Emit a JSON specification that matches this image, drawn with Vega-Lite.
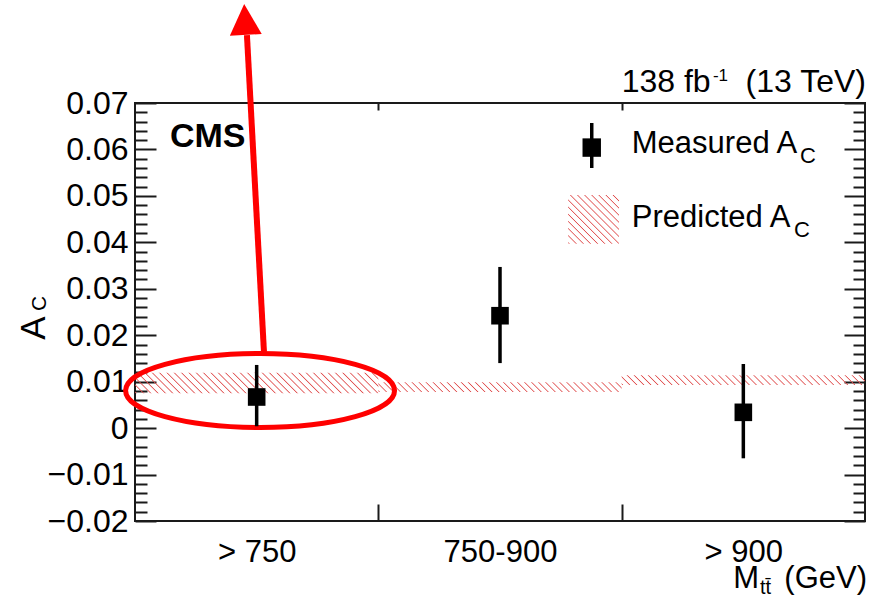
{
  "$schema": "https://vega.github.io/schema/vega-lite/v6.json",
  "width": 730,
  "height": 418,
  "autosize": {"type": "none"},
  "padding": {"left": 135, "top": 103, "right": 18, "bottom": 78},
  "background": "white",
  "config": {
    "font": "Liberation Sans",
    "view": {"stroke": "#1a1a1a", "strokeWidth": 2},
    "axis": {
      "domain": false,
      "grid": false,
      "tickColor": "#1a1a1a",
      "tickWidth": 2,
      "labelColor": "#000000",
      "labelFont": "Liberation Sans",
      "labelFontSize": 31,
      "labelFlush": false,
      "labelOverlap": false
    }
  },
  "datasets": {
    "bins": [
      {"bin": "> 750", "x0": 0, "x1": 1, "xc": 0.5, "meas": 0.0067, "lo": 0.0004, "hi": 0.0136, "pred_lo": 0.0075, "pred_hi": 0.0119},
      {"bin": "750-900", "x0": 1, "x1": 2, "xc": 1.5, "meas": 0.0242, "lo": 0.0140, "hi": 0.0347, "pred_lo": 0.0078, "pred_hi": 0.0099},
      {"bin": "> 900", "x0": 2, "x1": 3, "xc": 2.5, "meas": 0.0034, "lo": -0.0065, "hi": 0.0138, "pred_lo": 0.0093, "pred_hi": 0.0114}
    ],
    "legendBox": [
      {"x0": 1.780, "x1": 1.989, "lo": 0.0397, "hi": 0.0502}
    ],
    "legendMark": [
      {"x": 1.877, "y": 0.0604, "lo": 0.0560, "hi": 0.0657}
    ],
    "notes": [
      {"role": "ellipse", "x": 0.514, "y": 0.0081},
      {"role": "arrow", "x": 0.530, "y": 0.0164, "x2": 0.460, "y2": 0.0846},
      {"role": "head", "x": 0.452, "y": 0.088}
    ],
    "texts": [
      {"role": "main", "label": "Measured A", "x": 2.0416, "y": 0.0592},
      {"role": "main", "label": "Predicted A", "x": 2.0416, "y": 0.0433},
      {"role": "top", "label": "138 fb", "x": 2.0, "y": 0.0724},
      {"role": "topR", "label": "(13 TeV)", "x": 3.004, "y": 0.0724},
      {"role": "mainR", "label": "M", "x": 2.5645, "y": -0.0345},
      {"role": "mainR", "label": "(GeV)", "x": 3.0082, "y": -0.0345},
      {"role": "sub", "label": "C", "x": 2.733, "y": 0.0571},
      {"role": "sub", "label": "C", "x": 2.708, "y": 0.0411},
      {"role": "subX", "label": "tt̄", "x": 2.5685, "y": -0.0358},
      {"role": "sup", "label": "-1", "x": 2.375, "y": 0.0747},
      {"role": "cms", "label": "CMS", "x": 0.1438, "y": 0.0605},
      {"role": "ytA", "label": "A", "x": -0.370, "y": 0.0190},
      {"role": "ytC", "label": "C", "x": -0.3658, "y": 0.0252}
    ]
  },
  "layer": [
    {
      "data": {"name": "bins"},
      "transform": [{"filter": "datum.x0 == 0"}],
      "mark": {
        "type": "rect",
        "stroke": null,
        "fill": {
          "gradient": "linear", "x1": -0.084, "y1": 0, "x2": 0.9924, "y2": -0.0904,
          "stops": [
            {"offset": 0, "color": "#e0505000"}, {"offset": 0.0045, "color": "#e05050"}, {"offset": 0.009, "color": "#e0505000"},
            {"offset": 0.0278, "color": "#e0505000"}, {"offset": 0.0323, "color": "#e05050"}, {"offset": 0.0368, "color": "#e0505000"},
            {"offset": 0.0556, "color": "#e0505000"}, {"offset": 0.0601, "color": "#e05050"}, {"offset": 0.0646, "color": "#e0505000"},
            {"offset": 0.0833, "color": "#e0505000"}, {"offset": 0.0878, "color": "#e05050"}, {"offset": 0.0923, "color": "#e0505000"},
            {"offset": 0.1111, "color": "#e0505000"}, {"offset": 0.1156, "color": "#e05050"}, {"offset": 0.1201, "color": "#e0505000"},
            {"offset": 0.1389, "color": "#e0505000"}, {"offset": 0.1434, "color": "#e05050"}, {"offset": 0.1479, "color": "#e0505000"},
            {"offset": 0.1667, "color": "#e0505000"}, {"offset": 0.1712, "color": "#e05050"}, {"offset": 0.1757, "color": "#e0505000"},
            {"offset": 0.1944, "color": "#e0505000"}, {"offset": 0.1989, "color": "#e05050"}, {"offset": 0.2034, "color": "#e0505000"},
            {"offset": 0.2222, "color": "#e0505000"}, {"offset": 0.2267, "color": "#e05050"}, {"offset": 0.2312, "color": "#e0505000"},
            {"offset": 0.25, "color": "#e0505000"}, {"offset": 0.2545, "color": "#e05050"}, {"offset": 0.259, "color": "#e0505000"},
            {"offset": 0.2778, "color": "#e0505000"}, {"offset": 0.2823, "color": "#e05050"}, {"offset": 0.2868, "color": "#e0505000"},
            {"offset": 0.3056, "color": "#e0505000"}, {"offset": 0.3101, "color": "#e05050"}, {"offset": 0.3146, "color": "#e0505000"},
            {"offset": 0.3333, "color": "#e0505000"}, {"offset": 0.3378, "color": "#e05050"}, {"offset": 0.3423, "color": "#e0505000"},
            {"offset": 0.3611, "color": "#e0505000"}, {"offset": 0.3656, "color": "#e05050"}, {"offset": 0.3701, "color": "#e0505000"},
            {"offset": 0.3889, "color": "#e0505000"}, {"offset": 0.3934, "color": "#e05050"}, {"offset": 0.3979, "color": "#e0505000"},
            {"offset": 0.4167, "color": "#e0505000"}, {"offset": 0.4212, "color": "#e05050"}, {"offset": 0.4257, "color": "#e0505000"},
            {"offset": 0.4444, "color": "#e0505000"}, {"offset": 0.4489, "color": "#e05050"}, {"offset": 0.4534, "color": "#e0505000"},
            {"offset": 0.4722, "color": "#e0505000"}, {"offset": 0.4767, "color": "#e05050"}, {"offset": 0.4812, "color": "#e0505000"},
            {"offset": 0.5, "color": "#e0505000"}, {"offset": 0.5045, "color": "#e05050"}, {"offset": 0.509, "color": "#e0505000"},
            {"offset": 0.5278, "color": "#e0505000"}, {"offset": 0.5323, "color": "#e05050"}, {"offset": 0.5368, "color": "#e0505000"},
            {"offset": 0.5556, "color": "#e0505000"}, {"offset": 0.5601, "color": "#e05050"}, {"offset": 0.5646, "color": "#e0505000"},
            {"offset": 0.5833, "color": "#e0505000"}, {"offset": 0.5878, "color": "#e05050"}, {"offset": 0.5923, "color": "#e0505000"},
            {"offset": 0.6111, "color": "#e0505000"}, {"offset": 0.6156, "color": "#e05050"}, {"offset": 0.6201, "color": "#e0505000"},
            {"offset": 0.6389, "color": "#e0505000"}, {"offset": 0.6434, "color": "#e05050"}, {"offset": 0.6479, "color": "#e0505000"},
            {"offset": 0.6667, "color": "#e0505000"}, {"offset": 0.6712, "color": "#e05050"}, {"offset": 0.6757, "color": "#e0505000"},
            {"offset": 0.6944, "color": "#e0505000"}, {"offset": 0.6989, "color": "#e05050"}, {"offset": 0.7034, "color": "#e0505000"},
            {"offset": 0.7222, "color": "#e0505000"}, {"offset": 0.7267, "color": "#e05050"}, {"offset": 0.7312, "color": "#e0505000"},
            {"offset": 0.75, "color": "#e0505000"}, {"offset": 0.7545, "color": "#e05050"}, {"offset": 0.759, "color": "#e0505000"},
            {"offset": 0.7778, "color": "#e0505000"}, {"offset": 0.7823, "color": "#e05050"}, {"offset": 0.7868, "color": "#e0505000"},
            {"offset": 0.8056, "color": "#e0505000"}, {"offset": 0.8101, "color": "#e05050"}, {"offset": 0.8146, "color": "#e0505000"},
            {"offset": 0.8333, "color": "#e0505000"}, {"offset": 0.8378, "color": "#e05050"}, {"offset": 0.8423, "color": "#e0505000"},
            {"offset": 0.8611, "color": "#e0505000"}, {"offset": 0.8656, "color": "#e05050"}, {"offset": 0.8701, "color": "#e0505000"},
            {"offset": 0.8889, "color": "#e0505000"}, {"offset": 0.8934, "color": "#e05050"}, {"offset": 0.8979, "color": "#e0505000"},
            {"offset": 0.9167, "color": "#e0505000"}, {"offset": 0.9212, "color": "#e05050"}, {"offset": 0.9257, "color": "#e0505000"},
            {"offset": 0.9444, "color": "#e0505000"}, {"offset": 0.9489, "color": "#e05050"}, {"offset": 0.9534, "color": "#e0505000"},
            {"offset": 0.9722, "color": "#e0505000"}, {"offset": 0.9767, "color": "#e05050"}, {"offset": 0.9812, "color": "#e0505000"}
          ]
        }
      },
      "encoding": {
        "x": {
          "field": "x0", "type": "quantitative",
          "scale": {"domain": [0, 3], "nice": false, "zero": false},
          "axis": {
            "orient": "bottom", "title": null, "values": [0.5, 1.5, 2.5],
            "labelExpr": "datum.value < 1 ? '> 750' : datum.value < 2 ? '750-900' : '> 900'",
            "ticks": false, "labelPadding": 40, "labelBaseline": "alphabetic", "labelAlign": "center"
          }
        },
        "x2": {"field": "x1"},
        "y": {
          "field": "pred_lo", "type": "quantitative",
          "scale": {"domain": [-0.02, 0.07], "nice": false, "zero": false},
          "axis": {
            "orient": "left", "title": null,
            "values": [-0.02, -0.01, 0, 0.01, 0.02, 0.03, 0.04, 0.05, 0.06, 0.07],
            "labelExpr": "datum.value == 0 ? '0' : format(datum.value, '.2f')",
            "ticks": false, "labelPadding": 7, "labelAlign": "right", "labelBaseline": "middle", "labelFontSize": 32
          }
        },
        "y2": {"field": "pred_hi"}
      }
    },
    {
      "data": {"name": "bins"},
      "transform": [{"filter": "datum.x0 >= 1"}],
      "mark": {
        "type": "rect",
        "stroke": null,
        "fill": {
          "gradient": "linear", "x1": -0.0401, "y1": 0, "x2": 0.9983, "y2": -0.0416,
          "stops": [
            {"offset": 0, "color": "#e0505000"}, {"offset": 0.0045, "color": "#e05050"}, {"offset": 0.009, "color": "#e0505000"},
            {"offset": 0.0278, "color": "#e0505000"}, {"offset": 0.0323, "color": "#e05050"}, {"offset": 0.0368, "color": "#e0505000"},
            {"offset": 0.0556, "color": "#e0505000"}, {"offset": 0.0601, "color": "#e05050"}, {"offset": 0.0646, "color": "#e0505000"},
            {"offset": 0.0833, "color": "#e0505000"}, {"offset": 0.0878, "color": "#e05050"}, {"offset": 0.0923, "color": "#e0505000"},
            {"offset": 0.1111, "color": "#e0505000"}, {"offset": 0.1156, "color": "#e05050"}, {"offset": 0.1201, "color": "#e0505000"},
            {"offset": 0.1389, "color": "#e0505000"}, {"offset": 0.1434, "color": "#e05050"}, {"offset": 0.1479, "color": "#e0505000"},
            {"offset": 0.1667, "color": "#e0505000"}, {"offset": 0.1712, "color": "#e05050"}, {"offset": 0.1757, "color": "#e0505000"},
            {"offset": 0.1944, "color": "#e0505000"}, {"offset": 0.1989, "color": "#e05050"}, {"offset": 0.2034, "color": "#e0505000"},
            {"offset": 0.2222, "color": "#e0505000"}, {"offset": 0.2267, "color": "#e05050"}, {"offset": 0.2312, "color": "#e0505000"},
            {"offset": 0.25, "color": "#e0505000"}, {"offset": 0.2545, "color": "#e05050"}, {"offset": 0.259, "color": "#e0505000"},
            {"offset": 0.2778, "color": "#e0505000"}, {"offset": 0.2823, "color": "#e05050"}, {"offset": 0.2868, "color": "#e0505000"},
            {"offset": 0.3056, "color": "#e0505000"}, {"offset": 0.3101, "color": "#e05050"}, {"offset": 0.3146, "color": "#e0505000"},
            {"offset": 0.3333, "color": "#e0505000"}, {"offset": 0.3378, "color": "#e05050"}, {"offset": 0.3423, "color": "#e0505000"},
            {"offset": 0.3611, "color": "#e0505000"}, {"offset": 0.3656, "color": "#e05050"}, {"offset": 0.3701, "color": "#e0505000"},
            {"offset": 0.3889, "color": "#e0505000"}, {"offset": 0.3934, "color": "#e05050"}, {"offset": 0.3979, "color": "#e0505000"},
            {"offset": 0.4167, "color": "#e0505000"}, {"offset": 0.4212, "color": "#e05050"}, {"offset": 0.4257, "color": "#e0505000"},
            {"offset": 0.4444, "color": "#e0505000"}, {"offset": 0.4489, "color": "#e05050"}, {"offset": 0.4534, "color": "#e0505000"},
            {"offset": 0.4722, "color": "#e0505000"}, {"offset": 0.4767, "color": "#e05050"}, {"offset": 0.4812, "color": "#e0505000"},
            {"offset": 0.5, "color": "#e0505000"}, {"offset": 0.5045, "color": "#e05050"}, {"offset": 0.509, "color": "#e0505000"},
            {"offset": 0.5278, "color": "#e0505000"}, {"offset": 0.5323, "color": "#e05050"}, {"offset": 0.5368, "color": "#e0505000"},
            {"offset": 0.5556, "color": "#e0505000"}, {"offset": 0.5601, "color": "#e05050"}, {"offset": 0.5646, "color": "#e0505000"},
            {"offset": 0.5833, "color": "#e0505000"}, {"offset": 0.5878, "color": "#e05050"}, {"offset": 0.5923, "color": "#e0505000"},
            {"offset": 0.6111, "color": "#e0505000"}, {"offset": 0.6156, "color": "#e05050"}, {"offset": 0.6201, "color": "#e0505000"},
            {"offset": 0.6389, "color": "#e0505000"}, {"offset": 0.6434, "color": "#e05050"}, {"offset": 0.6479, "color": "#e0505000"},
            {"offset": 0.6667, "color": "#e0505000"}, {"offset": 0.6712, "color": "#e05050"}, {"offset": 0.6757, "color": "#e0505000"},
            {"offset": 0.6944, "color": "#e0505000"}, {"offset": 0.6989, "color": "#e05050"}, {"offset": 0.7034, "color": "#e0505000"},
            {"offset": 0.7222, "color": "#e0505000"}, {"offset": 0.7267, "color": "#e05050"}, {"offset": 0.7312, "color": "#e0505000"},
            {"offset": 0.75, "color": "#e0505000"}, {"offset": 0.7545, "color": "#e05050"}, {"offset": 0.759, "color": "#e0505000"},
            {"offset": 0.7778, "color": "#e0505000"}, {"offset": 0.7823, "color": "#e05050"}, {"offset": 0.7868, "color": "#e0505000"},
            {"offset": 0.8056, "color": "#e0505000"}, {"offset": 0.8101, "color": "#e05050"}, {"offset": 0.8146, "color": "#e0505000"},
            {"offset": 0.8333, "color": "#e0505000"}, {"offset": 0.8378, "color": "#e05050"}, {"offset": 0.8423, "color": "#e0505000"},
            {"offset": 0.8611, "color": "#e0505000"}, {"offset": 0.8656, "color": "#e05050"}, {"offset": 0.8701, "color": "#e0505000"},
            {"offset": 0.8889, "color": "#e0505000"}, {"offset": 0.8934, "color": "#e05050"}, {"offset": 0.8979, "color": "#e0505000"},
            {"offset": 0.9167, "color": "#e0505000"}, {"offset": 0.9212, "color": "#e05050"}, {"offset": 0.9257, "color": "#e0505000"},
            {"offset": 0.9444, "color": "#e0505000"}, {"offset": 0.9489, "color": "#e05050"}, {"offset": 0.9534, "color": "#e0505000"},
            {"offset": 0.9722, "color": "#e0505000"}, {"offset": 0.9767, "color": "#e05050"}, {"offset": 0.9812, "color": "#e0505000"}
          ]
        }
      },
      "encoding": {
        "x": {
          "field": "x0", "type": "quantitative",
          "scale": {"domain": [0, 3], "nice": false, "zero": false},
          "axis": {"orient": "bottom", "title": null, "values": [1, 2], "labels": false, "tickSize": -17}
        },
        "x2": {"field": "x1"},
        "y": {
          "field": "pred_lo", "type": "quantitative",
          "scale": {"domain": [-0.02, 0.07], "nice": false, "zero": false},
          "axis": {
            "orient": "left", "title": null, "labels": false, "tickSize": -21,
            "values": [-0.02, -0.01, 0, 0.01, 0.02, 0.03, 0.04, 0.05, 0.06, 0.07]
          }
        },
        "y2": {"field": "pred_hi"}
      }
    },
    {
      "data": {"name": "legendBox"},
      "mark": {
        "type": "rect",
        "stroke": null,
        "fill": {
          "gradient": "linear", "x1": -0.9587, "y1": 0, "x2": 0.0619, "y2": -0.9785,
          "stops": [
            {"offset": 0, "color": "#e0505000"}, {"offset": 0.011, "color": "#e05050"}, {"offset": 0.022, "color": "#e0505000"},
            {"offset": 0.0714, "color": "#e0505000"}, {"offset": 0.0824, "color": "#e05050"}, {"offset": 0.0934, "color": "#e0505000"},
            {"offset": 0.1429, "color": "#e0505000"}, {"offset": 0.1539, "color": "#e05050"}, {"offset": 0.1649, "color": "#e0505000"},
            {"offset": 0.2143, "color": "#e0505000"}, {"offset": 0.2253, "color": "#e05050"}, {"offset": 0.2363, "color": "#e0505000"},
            {"offset": 0.2857, "color": "#e0505000"}, {"offset": 0.2967, "color": "#e05050"}, {"offset": 0.3077, "color": "#e0505000"},
            {"offset": 0.3571, "color": "#e0505000"}, {"offset": 0.3681, "color": "#e05050"}, {"offset": 0.3791, "color": "#e0505000"},
            {"offset": 0.4286, "color": "#e0505000"}, {"offset": 0.4396, "color": "#e05050"}, {"offset": 0.4506, "color": "#e0505000"},
            {"offset": 0.5, "color": "#e0505000"}, {"offset": 0.511, "color": "#e05050"}, {"offset": 0.522, "color": "#e0505000"},
            {"offset": 0.5714, "color": "#e0505000"}, {"offset": 0.5824, "color": "#e05050"}, {"offset": 0.5934, "color": "#e0505000"},
            {"offset": 0.6429, "color": "#e0505000"}, {"offset": 0.6539, "color": "#e05050"}, {"offset": 0.6649, "color": "#e0505000"},
            {"offset": 0.7143, "color": "#e0505000"}, {"offset": 0.7253, "color": "#e05050"}, {"offset": 0.7363, "color": "#e0505000"},
            {"offset": 0.7857, "color": "#e0505000"}, {"offset": 0.7967, "color": "#e05050"}, {"offset": 0.8077, "color": "#e0505000"},
            {"offset": 0.8571, "color": "#e0505000"}, {"offset": 0.8681, "color": "#e05050"}, {"offset": 0.8791, "color": "#e0505000"},
            {"offset": 0.9286, "color": "#e0505000"}, {"offset": 0.9396, "color": "#e05050"}, {"offset": 0.9506, "color": "#e0505000"}
          ]
        }
      },
      "encoding": {
        "x": {
          "field": "x0", "type": "quantitative",
          "scale": {"domain": [0, 3], "nice": false, "zero": false},
          "axis": {"orient": "top", "title": null, "values": [1, 2], "labels": false, "tickSize": -7}
        },
        "x2": {"field": "x1"},
        "y": {
          "field": "lo", "type": "quantitative",
          "scale": {"domain": [-0.02, 0.07], "nice": false, "zero": false},
          "axis": {
            "orient": "left", "title": null, "labels": false, "tickSize": -12,
            "values": [-0.018, -0.016, -0.014, -0.012, -0.008, -0.006, -0.004, -0.002, 0.002, 0.004, 0.006, 0.008, 0.012, 0.014, 0.016, 0.018, 0.022, 0.024, 0.026, 0.028, 0.032, 0.034, 0.036, 0.038, 0.042, 0.044, 0.046, 0.048, 0.052, 0.054, 0.056, 0.058, 0.062, 0.064, 0.066, 0.068]
          }
        },
        "y2": {"field": "hi"}
      }
    },
    {
      "data": {"name": "notes"},
      "transform": [{"filter": "datum.role == 'ellipse'"}],
      "mark": {
        "type": "point",
        "shape": "M-1,0C-1,-0.1519 -0.5523,-0.2751 0,-0.2751C0.5523,-0.2751 1,-0.1519 1,0C1,0.1519 0.5523,0.2751 0,0.2751C-0.5523,0.2751 -1,0.1519 -1,0Z",
        "size": 72361,
        "filled": false,
        "stroke": "#ff0000",
        "strokeWidth": 5,
        "opacity": 1
      },
      "encoding": {
        "x": {"field": "x", "type": "quantitative", "scale": {"domain": [0, 3], "nice": false, "zero": false}, "axis": null},
        "y": {
          "field": "y", "type": "quantitative",
          "scale": {"domain": [-0.02, 0.07], "nice": false, "zero": false},
          "axis": {
            "orient": "right", "title": null, "labels": false, "tickSize": -21,
            "values": [-0.02, -0.01, 0, 0.01, 0.02, 0.03, 0.04, 0.05, 0.06, 0.07]
          }
        }
      }
    },
    {
      "data": {"name": "notes"},
      "transform": [{"filter": "datum.role == 'arrow'"}],
      "mark": {"type": "rule", "color": "#ff0000", "strokeWidth": 6, "strokeCap": "butt"},
      "encoding": {
        "x": {"field": "x", "type": "quantitative", "scale": {"domain": [0, 3], "nice": false, "zero": false}, "axis": null},
        "x2": {"field": "x2"},
        "y": {
          "field": "y", "type": "quantitative",
          "scale": {"domain": [-0.02, 0.07], "nice": false, "zero": false},
          "axis": {
            "orient": "right", "title": null, "labels": false, "tickSize": -12,
            "values": [-0.018, -0.016, -0.014, -0.012, -0.008, -0.006, -0.004, -0.002, 0.002, 0.004, 0.006, 0.008, 0.012, 0.014, 0.016, 0.018, 0.022, 0.024, 0.026, 0.028, 0.032, 0.034, 0.036, 0.038, 0.042, 0.044, 0.046, 0.048, 0.052, 0.054, 0.056, 0.058, 0.062, 0.064, 0.066, 0.068]
          }
        },
        "y2": {"field": "y2"}
      }
    },
    {
      "data": {"name": "notes"},
      "transform": [{"filter": "datum.role == 'head'"}],
      "mark": {
        "type": "point",
        "shape": "M0,-1L1.03,1L-1.03,1Z",
        "size": 961,
        "angle": -3,
        "filled": true,
        "color": "#ff0000",
        "strokeWidth": 0,
        "opacity": 1
      },
      "encoding": {
        "x": {"field": "x", "type": "quantitative", "scale": {"domain": [0, 3], "nice": false, "zero": false}, "axis": null},
        "y": {"field": "y", "type": "quantitative", "scale": {"domain": [-0.02, 0.07], "nice": false, "zero": false}, "axis": null}
      }
    },
    {
      "data": {"name": "bins"},
      "mark": {"type": "rule", "color": "#000000", "strokeWidth": 3.5},
      "encoding": {
        "x": {"field": "xc", "type": "quantitative", "scale": {"domain": [0, 3], "nice": false, "zero": false}, "axis": null},
        "y": {"field": "lo", "type": "quantitative", "scale": {"domain": [-0.02, 0.07], "nice": false, "zero": false}, "axis": null},
        "y2": {"field": "hi"}
      }
    },
    {
      "data": {"name": "bins"},
      "mark": {"type": "point", "shape": "square", "filled": true, "color": "#000000", "size": 310, "strokeWidth": 0, "opacity": 1},
      "encoding": {
        "x": {"field": "xc", "type": "quantitative", "scale": {"domain": [0, 3], "nice": false, "zero": false}, "axis": null},
        "y": {"field": "meas", "type": "quantitative", "scale": {"domain": [-0.02, 0.07], "nice": false, "zero": false}, "axis": null}
      }
    },
    {
      "data": {"name": "legendMark"},
      "mark": {"type": "rule", "color": "#000000", "strokeWidth": 3.5},
      "encoding": {
        "x": {"field": "x", "type": "quantitative", "scale": {"domain": [0, 3], "nice": false, "zero": false}, "axis": null},
        "y": {"field": "lo", "type": "quantitative", "scale": {"domain": [-0.02, 0.07], "nice": false, "zero": false}, "axis": null},
        "y2": {"field": "hi"}
      }
    },
    {
      "data": {"name": "legendMark"},
      "mark": {"type": "point", "shape": "square", "filled": true, "color": "#000000", "size": 340, "strokeWidth": 0, "opacity": 1},
      "encoding": {
        "x": {"field": "x", "type": "quantitative", "scale": {"domain": [0, 3], "nice": false, "zero": false}, "axis": null},
        "y": {"field": "y", "type": "quantitative", "scale": {"domain": [-0.02, 0.07], "nice": false, "zero": false}, "axis": null}
      }
    },
    {
      "data": {"name": "texts"},
      "transform": [{"filter": "datum.role == 'main'"}],
      "mark": {"type": "text", "align": "left", "baseline": "alphabetic", "fontSize": 31, "color": "#000000"},
      "encoding": {
        "x": {"field": "x", "type": "quantitative", "scale": {"domain": [0, 3], "nice": false, "zero": false}, "axis": null},
        "y": {"field": "y", "type": "quantitative", "scale": {"domain": [-0.02, 0.07], "nice": false, "zero": false}, "axis": null},
        "text": {"field": "label"}
      }
    },
    {
      "data": {"name": "texts"},
      "transform": [{"filter": "datum.role == 'top'"}],
      "mark": {"type": "text", "align": "left", "baseline": "alphabetic", "fontSize": 32, "color": "#000000"},
      "encoding": {
        "x": {"field": "x", "type": "quantitative", "scale": {"domain": [0, 3], "nice": false, "zero": false}, "axis": null},
        "y": {"field": "y", "type": "quantitative", "scale": {"domain": [-0.02, 0.07], "nice": false, "zero": false}, "axis": null},
        "text": {"field": "label"}
      }
    },
    {
      "data": {"name": "texts"},
      "transform": [{"filter": "datum.role == 'topR'"}],
      "mark": {"type": "text", "align": "right", "baseline": "alphabetic", "fontSize": 32, "color": "#000000"},
      "encoding": {
        "x": {"field": "x", "type": "quantitative", "scale": {"domain": [0, 3], "nice": false, "zero": false}, "axis": null},
        "y": {"field": "y", "type": "quantitative", "scale": {"domain": [-0.02, 0.07], "nice": false, "zero": false}, "axis": null},
        "text": {"field": "label"}
      }
    },
    {
      "data": {"name": "texts"},
      "transform": [{"filter": "datum.role == 'mainR'"}],
      "mark": {"type": "text", "align": "right", "baseline": "alphabetic", "fontSize": 31, "color": "#000000"},
      "encoding": {
        "x": {"field": "x", "type": "quantitative", "scale": {"domain": [0, 3], "nice": false, "zero": false}, "axis": null},
        "y": {"field": "y", "type": "quantitative", "scale": {"domain": [-0.02, 0.07], "nice": false, "zero": false}, "axis": null},
        "text": {"field": "label"}
      }
    },
    {
      "data": {"name": "texts"},
      "transform": [{"filter": "datum.role == 'sub'"}],
      "mark": {"type": "text", "align": "left", "baseline": "alphabetic", "fontSize": 22, "color": "#000000"},
      "encoding": {
        "x": {"field": "x", "type": "quantitative", "scale": {"domain": [0, 3], "nice": false, "zero": false}, "axis": null},
        "y": {"field": "y", "type": "quantitative", "scale": {"domain": [-0.02, 0.07], "nice": false, "zero": false}, "axis": null},
        "text": {"field": "label"}
      }
    },
    {
      "data": {"name": "texts"},
      "transform": [{"filter": "datum.role == 'subX'"}],
      "mark": {"type": "text", "align": "left", "baseline": "alphabetic", "fontSize": 20, "color": "#000000"},
      "encoding": {
        "x": {"field": "x", "type": "quantitative", "scale": {"domain": [0, 3], "nice": false, "zero": false}, "axis": null},
        "y": {"field": "y", "type": "quantitative", "scale": {"domain": [-0.02, 0.07], "nice": false, "zero": false}, "axis": null},
        "text": {"field": "label"}
      }
    },
    {
      "data": {"name": "texts"},
      "transform": [{"filter": "datum.role == 'sup'"}],
      "mark": {"type": "text", "align": "left", "baseline": "alphabetic", "fontSize": 17, "color": "#000000"},
      "encoding": {
        "x": {"field": "x", "type": "quantitative", "scale": {"domain": [0, 3], "nice": false, "zero": false}, "axis": null},
        "y": {"field": "y", "type": "quantitative", "scale": {"domain": [-0.02, 0.07], "nice": false, "zero": false}, "axis": null},
        "text": {"field": "label"}
      }
    },
    {
      "data": {"name": "texts"},
      "transform": [{"filter": "datum.role == 'cms'"}],
      "mark": {"type": "text", "align": "left", "baseline": "alphabetic", "fontSize": 34, "fontWeight": "bold", "color": "#000000"},
      "encoding": {
        "x": {"field": "x", "type": "quantitative", "scale": {"domain": [0, 3], "nice": false, "zero": false}, "axis": null},
        "y": {"field": "y", "type": "quantitative", "scale": {"domain": [-0.02, 0.07], "nice": false, "zero": false}, "axis": null},
        "text": {"field": "label"}
      }
    },
    {
      "data": {"name": "texts"},
      "transform": [{"filter": "datum.role == 'ytA'"}],
      "mark": {"type": "text", "align": "left", "baseline": "alphabetic", "fontSize": 35, "angle": 270, "color": "#000000"},
      "encoding": {
        "x": {"field": "x", "type": "quantitative", "scale": {"domain": [0, 3], "nice": false, "zero": false}, "axis": null},
        "y": {"field": "y", "type": "quantitative", "scale": {"domain": [-0.02, 0.07], "nice": false, "zero": false}, "axis": null},
        "text": {"field": "label"}
      }
    },
    {
      "data": {"name": "texts"},
      "transform": [{"filter": "datum.role == 'ytC'"}],
      "mark": {"type": "text", "align": "left", "baseline": "alphabetic", "fontSize": 21, "angle": 270, "color": "#000000"},
      "encoding": {
        "x": {"field": "x", "type": "quantitative", "scale": {"domain": [0, 3], "nice": false, "zero": false}, "axis": null},
        "y": {"field": "y", "type": "quantitative", "scale": {"domain": [-0.02, 0.07], "nice": false, "zero": false}, "axis": null},
        "text": {"field": "label"}
      }
    }
  ],
  "resolve": {"axis": {"x": "independent", "y": "independent"}}
}
